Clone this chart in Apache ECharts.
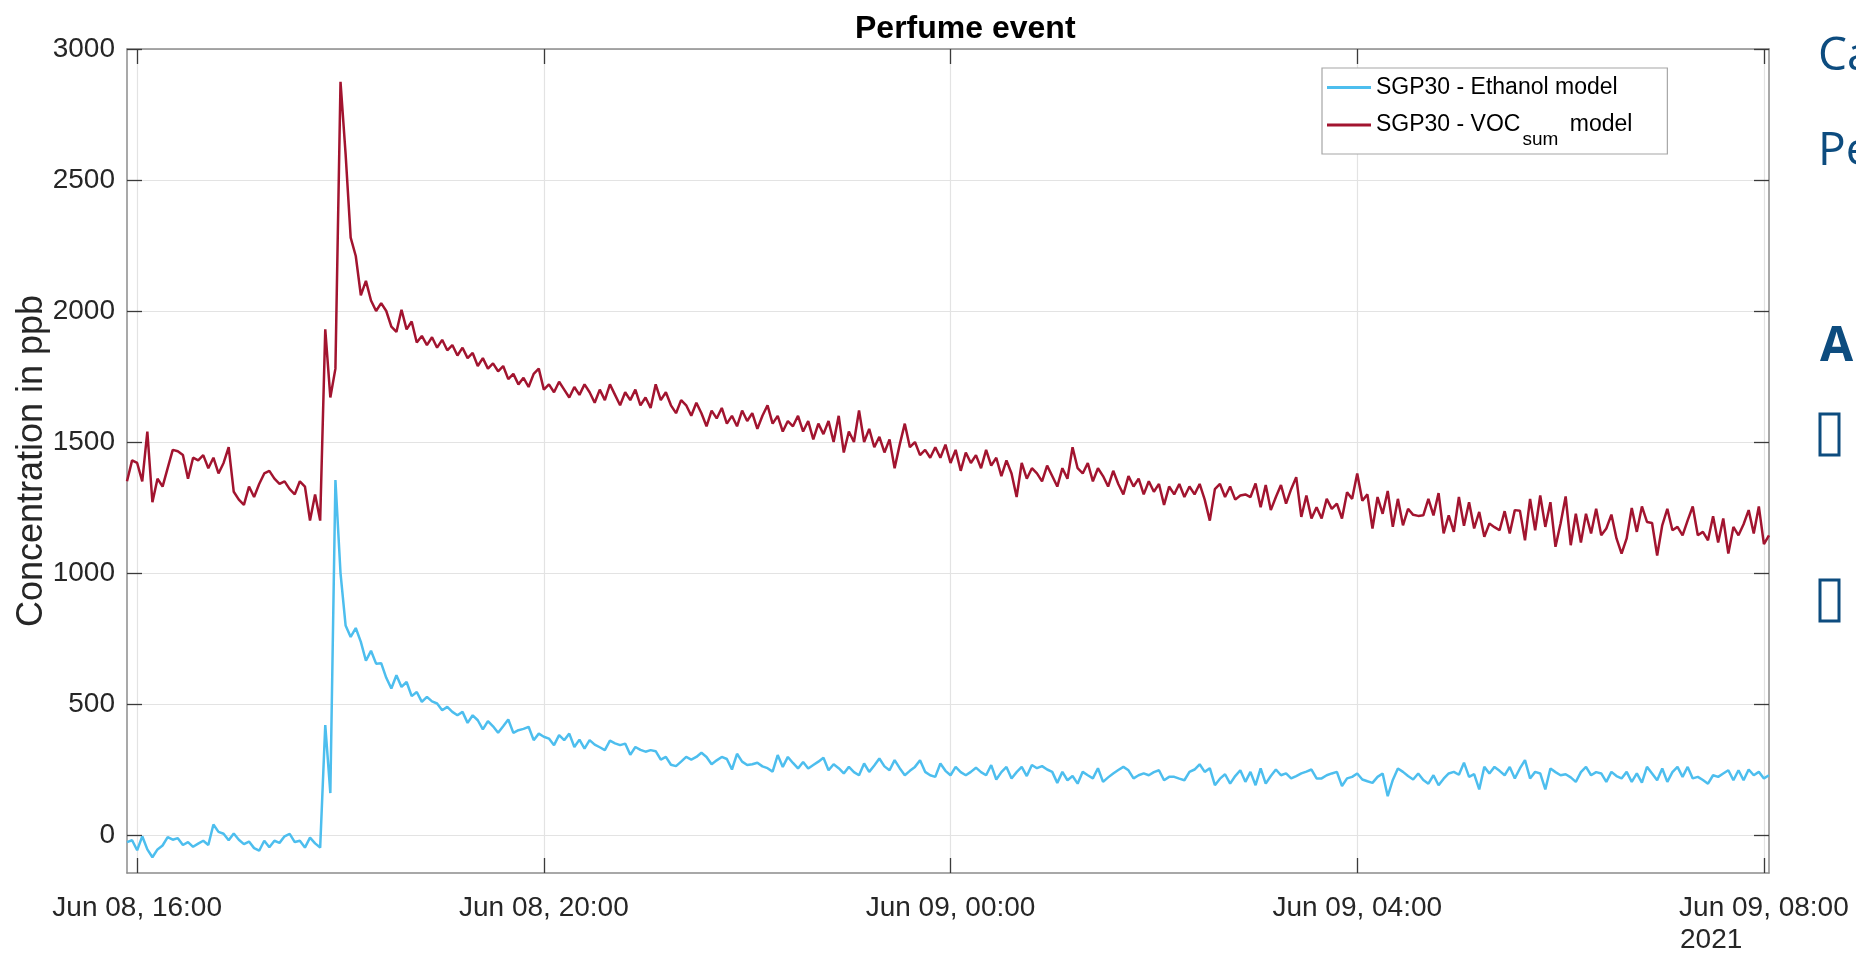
<!DOCTYPE html>
<html><head><meta charset="utf-8">
<script src="https://cdn.jsdelivr.net/npm/echarts@6/dist/echarts.min.js"></script>
<style>html,body{margin:0;padding:0;background:#fff}#c{width:1856px;height:955px}</style>
</head><body><div id="c"></div>
<script>
// ---- data ----
const START = [2021, 5, 8, 15, 54];   // first sample: Jun 08 2021, 15:54
const STEP_MIN = 3;                    // sampling step (minutes)
const X_TICKS = ['Jun 08, 16:00', 'Jun 08, 20:00', 'Jun 09, 00:00', 'Jun 09, 04:00', 'Jun 09, 08:00'];
const Y_TICKS = [0, 500, 1000, 1500, 2000, 2500, 3000];
const NAME_ETH = 'SGP30 - Ethanol model';
const NAME_VOC = 'SGP30 - VOCsum model';

const ethanol = [
-27,-20,-58,-5,-55,-85,-55,-40,-8,-18,
-12,-38,-27,-45,-33,-22,-38,40,12,5,
-20,6,-18,-35,-25,-50,-60,-22,-47,-22,
-30,-5,4,-27,-22,-48,-10,-32,-48,420,
160,1355,1000,800,756,790,737,665,703,654,
656,600,559,610,565,584,530,546,508,527,
510,502,476,489,470,457,470,428,457,438,
403,435,415,390,415,441,390,400,405,413,
362,387,375,368,343,381,362,387,336,364,
330,362,345,335,324,360,350,343,349,306,
336,325,318,324,320,288,298,268,263,280,
298,288,298,314,298,270,285,298,290,250,
310,280,267,270,276,262,255,242,305,260,
298,275,254,279,254,267,280,295,247,270,
255,235,260,240,228,273,241,265,292,262,
247,286,255,228,245,260,285,241,228,222,
273,245,228,260,240,228,241,257,240,228,
267,212,240,260,216,240,260,225,267,255,
263,250,241,199,241,209,225,196,241,228,
216,255,203,220,235,248,260,247,216,228,
235,228,240,247,209,222,222,215,209,241,
250,270,241,255,190,215,232,196,225,247,
203,241,190,254,196,225,250,228,235,216,
225,235,242,250,216,216,228,235,241,187,
216,222,235,212,205,199,222,235,148,210,
254,241,225,212,235,210,196,228,190,215,
235,241,230,276,222,232,174,260,235,260,
245,228,260,216,254,286,216,241,235,174,
254,240,228,232,220,203,240,260,228,240,
235,203,241,225,216,241,203,235,200,260,
235,209,254,203,240,260,222,260,216,222,
210,196,228,222,235,247,209,247,209,250,
228,241,216,228
];

const vocSum = [
1350,1430,1420,1350,1540,1270,1360,1330,1400,1470,
1465,1450,1360,1440,1430,1450,1400,1440,1380,1420,
1480,1310,1280,1260,1330,1290,1340,1380,1390,1360,
1340,1350,1320,1300,1350,1330,1200,1300,1200,1930,
1670,1780,2875,2600,2280,2210,2060,2115,2040,2000,
2030,2000,1940,1920,2005,1930,1960,1880,1905,1870,
1900,1860,1890,1850,1870,1830,1860,1820,1840,1790,
1820,1780,1800,1770,1790,1740,1760,1720,1745,1710,
1760,1780,1700,1720,1690,1730,1700,1670,1710,1680,
1720,1690,1650,1700,1660,1720,1680,1640,1690,1660,
1700,1640,1670,1630,1720,1660,1690,1640,1610,1660,
1640,1600,1650,1610,1560,1620,1590,1630,1570,1600,
1560,1620,1580,1610,1550,1600,1640,1570,1600,1540,
1580,1560,1600,1540,1580,1510,1570,1530,1580,1500,
1600,1460,1540,1500,1620,1500,1550,1480,1520,1460,
1510,1400,1490,1570,1480,1500,1450,1470,1440,1480,
1440,1490,1420,1470,1390,1460,1420,1450,1400,1470,
1410,1440,1370,1430,1380,1290,1420,1360,1400,1380,
1350,1410,1370,1330,1400,1360,1480,1400,1380,1420,
1350,1400,1370,1330,1390,1340,1300,1370,1330,1360,
1300,1350,1310,1340,1260,1330,1300,1340,1290,1330,
1300,1340,1280,1200,1320,1340,1290,1330,1280,1296,
1300,1290,1342,1251,1336,1240,1290,1336,1265,1320,
1366,1214,1296,1208,1251,1208,1283,1245,1265,1208,
1308,1283,1380,1276,1300,1170,1290,1226,1313,1176,
1283,1182,1245,1222,1218,1220,1283,1220,1305,1151,
1220,1157,1290,1180,1270,1170,1233,1138,1189,1175,
1163,1236,1151,1240,1238,1125,1283,1163,1296,1176,
1270,1100,1189,1292,1106,1226,1116,1226,1151,1245,
1144,1170,1223,1132,1074,1132,1248,1157,1254,1195,
1191,1067,1182,1245,1163,1176,1144,1201,1254,1144,
1157,1125,1217,1116,1208,1074,1176,1144,1186,1240,
1151,1254,1110,1144
];

// category labels (sample timestamps)
const MONTHS = ['Jan','Feb','Mar','Apr','May','Jun','Jul','Aug','Sep','Oct','Nov','Dec'];
const pad = n => (n < 10 ? '0' : '') + n;
const t0 = new Date(START[0], START[1], START[2], START[3], START[4]).getTime();
const times = ethanol.map((_, i) => {
  const d = new Date(t0 + i * STEP_MIN * 60000);
  return MONTHS[d.getMonth()] + ' ' + pad(d.getDate()) + ', ' + pad(d.getHours()) + ':' + pad(d.getMinutes());
});
const isTick = (idx, val) => X_TICKS.indexOf(val) >= 0;

// ---- chart ----
const FONT = '"Liberation Sans", Arial, Helvetica, sans-serif';
const SLIDE_FONT = '"Open Sans", "Noto Sans", sans-serif';
const TXT = '#262626';
const AXIS_LINE = { show: true, onZero: false, lineStyle: { color: '#8c8c8c', width: 1.5 } };
const TICK_STYLE = { color: '#3a3a3a', width: 1.3 };
const GRID_LINE = { color: '#e3e3e3', width: 1.2 };
const SLIDE = '#0d4c7f';

const chart = echarts.init(document.getElementById('c'), null, { renderer: 'canvas' });
chart.setOption({
  animation: false,
  backgroundColor: '#ffffff',
  title: {
    text: 'Perfume event', left: 850, top: 8,
    textStyle: { fontFamily: FONT, fontSize: 32, fontWeight: 'bold', color: '#000' }
  },
  legend: {
    orient: 'vertical', left: 1322, top: 68,
    padding: [8, 35, 5, 5], itemGap: 2,
    itemWidth: 44, itemHeight: 3, icon: 'rect',
    borderColor: '#a6a6a6', borderWidth: 1.2, backgroundColor: '#ffffff',
    data: [NAME_ETH, NAME_VOC],
    formatter: name => name === NAME_VOC ? '{n|SGP30 - VOC}{s|sum}{n| model}' : '{n|' + name + '}',
    textStyle: {
      fontFamily: FONT, fontSize: 23, color: '#000',
      rich: {
        n: { fontFamily: FONT, fontSize: 23, lineHeight: 28, color: '#000' },
        s: { fontFamily: FONT, fontSize: 19, lineHeight: 19, padding: [29, 5, 0, 2], color: '#000' }
      }
    }
  },
  grid: { left: 127, top: 49, width: 1642, height: 824, containLabel: false, outerBoundsMode: 'none' },
  xAxis: [
    {
      type: 'category', data: times, boundaryGap: false, position: 'bottom',
      axisLine: AXIS_LINE,
      axisTick: { show: true, inside: true, length: 15, interval: isTick, lineStyle: TICK_STYLE },
      axisLabel: { interval: isTick, margin: 21, fontFamily: FONT, fontSize: 28, color: TXT },
      splitLine: { show: true, interval: isTick, lineStyle: GRID_LINE }
    },
    {
      type: 'category', data: times, boundaryGap: false, position: 'top',
      axisLine: AXIS_LINE,
      axisTick: { show: true, inside: true, length: 15, interval: isTick, lineStyle: TICK_STYLE },
      axisLabel: { show: false }, splitLine: { show: false }
    }
  ],
  yAxis: [
    {
      type: 'value', min: -145, max: 3000, position: 'left',
      name: 'Concentration in ppb', nameLocation: 'middle', nameGap: 77, nameMoveOverlap: false,
      nameTextStyle: { fontFamily: FONT, fontSize: 36, color: TXT },
      axisLine: AXIS_LINE,
      axisTick: { show: true, inside: true, length: 15, customValues: Y_TICKS, lineStyle: TICK_STYLE },
      axisLabel: { customValues: Y_TICKS, margin: 12, fontFamily: FONT, fontSize: 28, color: TXT,
                   formatter: v => String(v) },
      splitLine: { show: true, lineStyle: GRID_LINE }
    },
    {
      type: 'value', min: -145, max: 3000, position: 'right',
      axisLine: AXIS_LINE,
      axisTick: { show: true, inside: true, length: 15, customValues: Y_TICKS, lineStyle: TICK_STYLE },
      axisLabel: { show: false }, splitLine: { show: false }
    }
  ],
  series: [
    { name: NAME_ETH, type: 'line', data: ethanol, xAxisIndex: 0, yAxisIndex: 0,
      symbol: 'none', color: '#4DBEEE', lineStyle: { width: 2.5, color: '#4DBEEE' }, z: 3 },
    { name: NAME_VOC, type: 'line', data: vocSum, xAxisIndex: 0, yAxisIndex: 0,
      symbol: 'none', color: '#A2142F', lineStyle: { width: 2.5, color: '#A2142F' }, z: 3 }
  ],
  graphic: [
    { type: 'text', x: 1680, y: 940, silent: true,
      style: { text: '2021', fontFamily: FONT, fontSize: 28, fill: TXT, align: 'left', verticalAlign: 'middle' } },
    { type: 'text', x: 1818, y: 57, silent: true,
      style: { text: 'Ca', fontFamily: SLIDE_FONT, fontSize: 46, fill: SLIDE, align: 'left', verticalAlign: 'middle' } },
    { type: 'text', x: 1818, y: 152, silent: true,
      style: { text: 'Pe', fontFamily: SLIDE_FONT, fontSize: 46, fill: SLIDE, align: 'left', verticalAlign: 'middle' } },
    { type: 'text', x: 1820, y: 347, silent: true,
      style: { text: 'A', fontFamily: SLIDE_FONT, fontSize: 48, fontWeight: 'bold', fill: SLIDE, align: 'left', verticalAlign: 'middle' } },
    { type: 'rect', silent: true, shape: { x: 1820, y: 414, width: 19, height: 41 },
      style: { fill: 'none', stroke: SLIDE, lineWidth: 3 } },
    { type: 'rect', silent: true, shape: { x: 1820, y: 580, width: 19, height: 41 },
      style: { fill: 'none', stroke: SLIDE, lineWidth: 3 } }
  ]
});
</script>
</body></html>
